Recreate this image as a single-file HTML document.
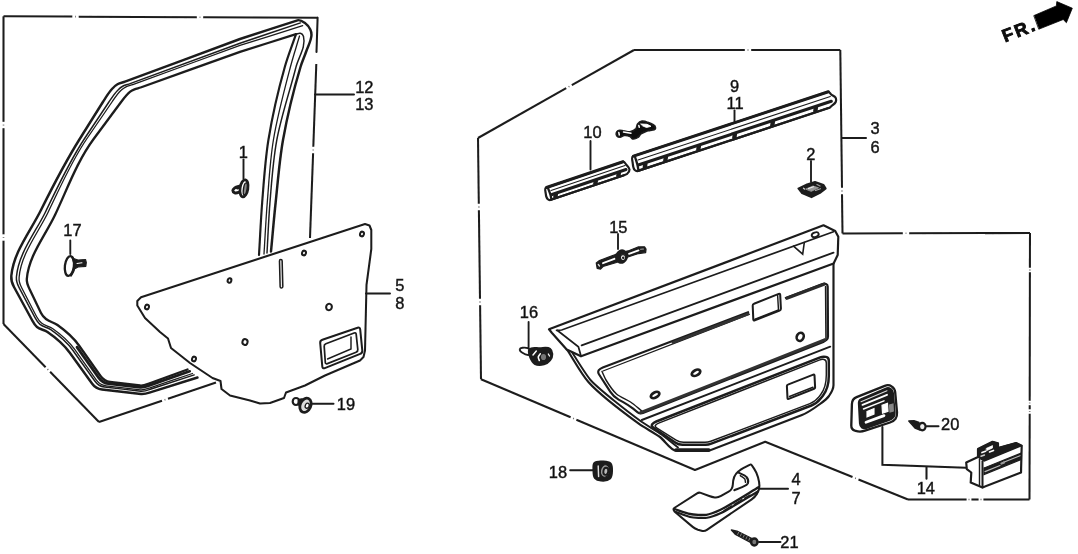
<!DOCTYPE html>
<html lang="en">
<head>
<meta charset="utf-8">
<title>Rear door lining parts diagram</title>
<style>
html,body{margin:0;padding:0;background:#fff;}
body{width:1078px;height:554px;overflow:hidden;}
svg{display:block;}
svg text{font-family:"Liberation Sans",sans-serif;fill:#111;}
</style>
</head>
<body>
<svg width="1078" height="554" viewBox="0 0 1078 554">
<rect x="0" y="0" width="1078" height="554" fill="#fff" stroke="none"/>
<defs><filter id="soft" x="-2%" y="-2%" width="104%" height="104%"><feGaussianBlur stdDeviation="0.45"/></filter></defs>
<g filter="url(#soft)">
<g fill="none" stroke="#1c1c1c" stroke-linecap="round">
<path d="M318 17.8 L203.2 17.3" fill="none" stroke-width="2.03" stroke-linecap="butt"/>
<path d="M200.4 17.2 L199.6 17.2" fill="none" stroke-width="1.62" stroke-linecap="butt" stroke="#666"/>
<path d="M196.8 17.2 L78.7 16.7" fill="none" stroke-width="2.03" stroke-linecap="butt"/>
<path d="M75.9 16.6 L75.1 16.6" fill="none" stroke-width="1.62" stroke-linecap="butt" stroke="#666"/>
<path d="M72.3 16.6 L3.5 16.3" fill="none" stroke-width="2.03" stroke-linecap="butt"/>
<path d="M3.5 16.3 L3.5 121.8" fill="none" stroke-width="2.03" stroke-linecap="butt"/>
<path d="M3.5 124.6 L3.5 125.5" fill="none" stroke-width="1.62" stroke-linecap="butt" stroke="#666"/>
<path d="M3.5 128.2 L3.5 234.3" fill="none" stroke-width="2.03" stroke-linecap="butt"/>
<path d="M3.5 237.1 L3.5 237.9" fill="none" stroke-width="1.62" stroke-linecap="butt" stroke="#666"/>
<path d="M3.5 240.7 L3.5 324" fill="none" stroke-width="2.03" stroke-linecap="butt"/>
<path d="M3.5 324 L45.6 367.2" fill="none" stroke-width="2.03" stroke-linecap="butt"/>
<path d="M47.5 369.2 L48.2 369.8" fill="none" stroke-width="1.62" stroke-linecap="butt" stroke="#666"/>
<path d="M50.1 371.8 L99 422" fill="none" stroke-width="2.03" stroke-linecap="butt"/>
<path d="M99 422 L162 400.7" fill="none" stroke-width="2.03" stroke-linecap="butt"/>
<path d="M164.6 399.9 L165.4 399.6" fill="none" stroke-width="1.62" stroke-linecap="butt" stroke="#666"/>
<path d="M168 398.7 L216 382.5" fill="none" stroke-width="2.03" stroke-linecap="butt"/>
<path d="M317.6 17.8 L316.5 52" fill="none" stroke-width="2.03" />
<path d="M316.3 64 L313.3 146.8" fill="none" stroke-width="2.03" stroke-linecap="butt"/>
<path d="M313.2 149.6 L313.2 150.4" fill="none" stroke-width="1.62" stroke-linecap="butt" stroke="#666"/>
<path d="M313.1 153.2 L310 238" fill="none" stroke-width="2.03" stroke-linecap="butt"/>
<path d="M315 94.5 L354 94.5" stroke-width="2.03" />
<path d="M197.5 377.5 C182 382.4 166.5 387.3 151 392.2 C147.8 393.2 144.4 394.4 141 394 C128 392.5 115 391 102 389.5 C98.1 389.1 94.3 386.7 92 383.5 C84.7 373.3 77.3 363.2 70 353 C64 344.7 56 337.8 47.5 332 C44.3 329.8 40 329.5 37 327 C34.8 325.2 33.4 322.5 32 320 C26 309 20 298 14 287 C12.2 283.7 11 279.8 11.3 276 C13.5 252 30.3 231.6 41 210 C53.1 185.7 65.6 161.5 80 138.5 C87.6 126.3 95.3 114.2 102.9 102 C105.7 97.5 108.4 92.9 112 89 C113.6 87.2 115.4 85.5 117.5 84.3 C119.8 83 122.5 82.6 125 81.7 C163.3 67.5 201.7 53.2 240 39 C259.2 32.8 278.3 26.5 297.5 20.3 C300 19.5 302.8 21.4 305 22.9 C307.3 24.5 309.1 27 310.3 29.6 C311.1 31.3 311.6 33.2 311.5 35 C311.2 40.9 307.9 46.4 306 52 C304.3 57 302 61.9 300.5 67 C293.3 91 287.4 115.4 283 140 C279.4 160.5 277.9 181.3 275.7 202 C273.9 218.5 272.6 235 271 251.5" fill="none" stroke-width="2.46" />
<path d="M187.5 369.5 C174.7 374.2 161.8 378.8 149 383.5 C146.1 384.6 143.1 385.9 140 385.5 C130 384.3 120 383.2 110 382 C106.3 381.6 102.7 379.1 100.5 376 C93.3 365.8 86.2 355.7 79 345.5 C73.3 337.4 65.6 330.8 57.5 325 C54 322.5 49.4 321.7 46 319 C44 317.4 42.1 315.3 41 313 C37.2 305 33.3 297 29.5 289 C28 285.9 26.5 282.4 26.8 279 C28.6 255.8 45 236.1 55 215 C67.3 189.1 76.9 161.5 94 138.5 C103 126.3 112.1 114.2 121.1 102 C123.8 98.3 126.6 94.5 130.2 91.6 C131.5 90.6 133 89.9 134.5 89.3 C136.5 88.5 138.6 88.2 140.6 87.5 C173.7 75.6 206.9 63.7 240 51.8 C258.7 45.9 277.3 40.1 296 34.2" fill="none" stroke-width="2.32" />
<path d="M194.2 374.9 C179.6 379.7 165 384.5 150.3 389.3 C147.2 390.4 143.9 391.6 140.7 391.2 C128.7 389.8 116.6 388.4 104.6 387 C100.8 386.6 97 384.1 94.8 381 C87.5 370.9 80.2 360.7 73 350.5 C67.1 342.3 59.1 335.5 50.8 329.7 C47.5 327.4 43.1 326.9 40 324.4 C37.8 322.6 36.3 320.1 35 317.7 C29.7 307.7 24.4 297.7 19.1 287.7 C17.4 284.4 16.1 280.6 16.4 277 C18.5 253.2 35.1 233.1 45.6 211.7 C57.8 186.8 69.3 161.5 84.6 138.5 C92.7 126.3 100.8 114.2 108.9 102 C111.7 97.8 114.4 93.5 118 89.9 C119.5 88.3 121.2 87 123.1 86 C125.3 84.8 127.8 84.5 130.1 83.6 C166.8 70.2 203.4 56.7 240 43.2 C260.2 36.4 280.3 29.7 300.5 22.9" fill="none" stroke-width="1.45" />
<path d="M192.5 373.5 C178.3 378.3 164.2 383.1 150 387.9 C146.9 388.9 143.7 390.1 140.5 389.8 C129 388.4 117.5 387.1 106 385.8 C102.2 385.3 98.5 382.9 96.2 379.8 C89 369.6 81.8 359.4 74.5 349.2 C68.6 341 60.8 334.3 52.5 328.5 C49.1 326.2 44.7 325.6 41.5 323 C39.4 321.3 37.8 318.9 36.5 316.5 C31.6 307 26.7 297.5 21.8 288 C20.1 284.8 18.7 281.1 19.1 277.5 C21 253.9 37.6 233.8 48 212.5 C60.2 187.4 71.2 161.5 87 138.5 C95.3 126.3 103.7 114.2 112 102 C114.8 97.9 117.5 93.7 121.1 90.3 C122.5 88.9 124.2 87.7 126 86.8 C128.1 85.7 130.6 85.4 132.8 84.6 C168.5 71.5 204.3 58.5 240 45.4 C260.9 38.8 281.8 32.3 302.7 25.7" fill="none" stroke-width="1.30" />
<path d="M296 34.2 C292.3 45.1 287.9 55.9 284.8 67 C278 91 272.4 115.4 268.4 140 C265.1 160.5 263.9 181.3 262.2 202 C260.8 219.6 260.1 237.3 259 255" fill="none" stroke-width="2.17" />
<path d="M299.5 36 C296.5 46.3 293.1 56.6 290.4 67 C284 91.2 277.5 115.3 273.4 140 C270 160.5 269 181.3 267.3 202 C265.9 219.3 265.1 236.7 264 254" fill="none" stroke-width="1.30" />
<path d="M296 34.2 C297.5 33.9 299 32.8 300.5 33.3 C301.9 33.7 303.1 35.1 303.5 36.5 C306.2 46.6 298.6 56.9 296 67 C289.8 91.4 281.4 115.3 276.8 140 C273 160.4 271.7 181.3 270 202 C268.6 219 268 236 267 253" fill="none" stroke-width="1.45" />
<path d="M189.7 371.3 C176.3 376 162.9 380.7 149.4 385.4 C146.5 386.5 143.3 387.7 140.2 387.4 C129.6 386.1 118.9 384.9 108.2 383.6 C104.5 383.2 100.8 380.7 98.6 377.6 C91.4 367.5 84.2 357.3 77 347.1" fill="none" stroke-width="2.75" />
<path d="M141 297.3 L365 224 L369.5 225.5 L371.3 230 L371.3 249 L366.5 285 L365 350.5 L363.5 357 L360 360.5 L325 375.5 L305 385.5 L286 392.5 L284 398 L270 403 L260 403.5 L250 400.5 L230 395.5 L221.5 389 L220.5 381 L212.5 378 L190 363 L171 348 L168 338.5 L160 332 L145 318 L137.3 305.5 L137.3 301Z" fill="#fff" stroke-width="2.03" stroke-linejoin="round"/>
<ellipse cx="362" cy="234" rx="1.95" ry="2.35" transform="rotate(15 362 234)" fill="none" stroke-width="2.03"/>
<ellipse cx="304" cy="253" rx="1.95" ry="2.35" transform="rotate(15 304 253)" fill="none" stroke-width="2.03"/>
<ellipse cx="229.5" cy="280.5" rx="1.8499999999999999" ry="2.25" transform="rotate(15 229.5 280.5)" fill="none" stroke-width="2.03"/>
<ellipse cx="147" cy="307" rx="1.95" ry="2.35" transform="rotate(15 147 307)" fill="none" stroke-width="2.03"/>
<ellipse cx="329" cy="307" rx="2.8499999999999996" ry="3.25" transform="rotate(15 329 307)" fill="none" stroke-width="2.03"/>
<ellipse cx="245" cy="342" rx="2.55" ry="2.95" transform="rotate(15 245 342)" fill="none" stroke-width="2.03"/>
<ellipse cx="194" cy="359" rx="1.95" ry="2.35" transform="rotate(15 194 359)" fill="none" stroke-width="2.03"/>
<rect x="279.8" y="259.5" width="2.7" height="28.5" rx="1.35" stroke-width="1.5" fill="#eee" transform="rotate(-1.5 281 274)"/>
<path d="M320.2 343 Q320 340.5 322.4 339.7 L357.6 327.8 Q360 327 360.2 329.5 L362.3 350.5 Q362.5 353 360.2 353.9 L324.8 368.1 Q322.5 369 322.3 366.5 Z" fill="none" stroke-width="2.03" />
<path d="M324.2 346.5 Q324 344.5 325.9 343.8 L354.1 333 Q356 332.3 356.2 334.3 L357.8 349.5 Q358 351.5 356.1 352.2 L327.4 363.6 Q325.5 364.3 325.3 362.3 Z" fill="none" stroke-width="1.74" />
<path d="M351 337 L351 349 L327.5 359" fill="none" stroke-width="1.45" />
<path d="M366 293.5 L390 293.5" stroke-width="2.03" />
<path d="M70.3 240.5 L70.3 254" stroke-width="1.89" />
<path d="M243.5 159.5 L243.5 179" stroke-width="1.89" />
<path d="M311 403.7 L333.5 403.7" stroke-width="2.03" />
<path d="M73.5 258.5 L78 260 L85.5 259.5 L86.3 262.5 L85.8 266.3 L78 267 L73.5 269.5Z" fill="#1c1c1c" stroke-width="1.16" stroke-linejoin="round"/>
<path d="M77 263.6 L82 262.8" fill="none" stroke-width="1.01" stroke="#fff"/>
<ellipse cx="69.4" cy="266" rx="4.5" ry="10" transform="rotate(7 69.4 266)" fill="#fff" stroke-width="2.32"/>
<path d="M72.3 257 C72.9 258.7 73.7 260.3 74 262 C74.4 264.6 74.5 267.4 73.8 270 C73.3 272 71.9 273.7 71 275.5" fill="none" stroke-width="2.17" />
<path d="M240.5 186 C238.6 186.6 236.4 186.6 234.8 187.8 C233.9 188.5 232.8 189.4 232.8 190.5 C232.8 191.5 233.8 192.4 234.8 192.8 C236.6 193.5 238.6 192.3 240.5 192" fill="#fff" stroke-width="2.90" />
<path d="M237.5 187.8 L240.5 186.5" stroke-width="3.19" />
<ellipse cx="244" cy="188.3" rx="3.9" ry="8.6" transform="rotate(9 244 188.3)" fill="#fff" stroke-width="2.75"/>
<ellipse cx="245.3" cy="188.8" rx="1.8" ry="6" transform="rotate(9 245.3 188.8)" fill="#888" stroke-width="1.45"/>
<ellipse cx="296" cy="401.5" rx="3.3" ry="3.5" transform="rotate(0 296 401.5)" fill="#fff" stroke-width="2.17"/>
<path d="M298.5 399.3 L302.5 398.6 L300.3 407.5 L298 404.3Z" fill="#1c1c1c" stroke-width="0.87" />
<ellipse cx="305.5" cy="405.3" rx="5.3" ry="7.4" transform="rotate(24 305.5 405.3)" fill="#ddd" stroke-width="2.75"/>
<ellipse cx="307.2" cy="405.7" rx="1.9" ry="2.6" transform="rotate(24 307.2 405.7)" fill="#fff" stroke-width="1.30"/>
<path d="M634 50 L744.8 50" fill="none" stroke-width="2.03" stroke-linecap="butt"/>
<path d="M747.5 50 L748.5 50" fill="none" stroke-width="1.62" stroke-linecap="butt" stroke="#666"/>
<path d="M751.2 50 L840.3 50" fill="none" stroke-width="2.03" stroke-linecap="butt"/>
<path d="M840.3 50 L842 187.8" fill="none" stroke-width="2.03" stroke-linecap="butt"/>
<path d="M842 190.6 L842 191.4" fill="none" stroke-width="1.62" stroke-linecap="butt" stroke="#666"/>
<path d="M842 194.2 L842.5 233.5" fill="none" stroke-width="2.03" stroke-linecap="butt"/>
<path d="M842.5 233.5 L902.8 233.3" fill="none" stroke-width="2.03" stroke-linecap="butt"/>
<path d="M905.6 233.3 L906.4 233.3" fill="none" stroke-width="1.62" stroke-linecap="butt" stroke="#666"/>
<path d="M909.2 233.3 L1030 233" fill="none" stroke-width="2.03" stroke-linecap="butt"/>
<path d="M1030 233 L1029.9 267.8" fill="none" stroke-width="2.03" stroke-linecap="butt"/>
<path d="M1029.9 269.6 L1029.9 270.4" fill="none" stroke-width="1.62" stroke-linecap="butt" stroke="#666"/>
<path d="M1029.9 272.2 L1029.7 400.8" fill="none" stroke-width="2.03" stroke-linecap="butt"/>
<path d="M1029.7 402.6 L1029.7 403.4" fill="none" stroke-width="1.62" stroke-linecap="butt" stroke="#666"/>
<path d="M1029.7 405.2 L1029.7 409.3" fill="none" stroke-width="2.03" stroke-linecap="butt"/>
<path d="M1029.7 411.1 L1029.7 411.9" fill="none" stroke-width="1.62" stroke-linecap="butt" stroke="#666"/>
<path d="M1029.7 413.7 L1029.5 499.5" fill="none" stroke-width="2.03" stroke-linecap="butt"/>
<path d="M1029.5 499.5 L983.4 499.5" fill="none" stroke-width="2.03" stroke-linecap="butt"/>
<path d="M981.5 499.5 L980.5 499.5" fill="none" stroke-width="1.62" stroke-linecap="butt" stroke="#666"/>
<path d="M978.6 499.5 L971.4 499.5" fill="none" stroke-width="2.03" stroke-linecap="butt"/>
<path d="M969.5 499.5 L968.5 499.5" fill="none" stroke-width="1.62" stroke-linecap="butt" stroke="#666"/>
<path d="M966.6 499.5 L908 499.5" fill="none" stroke-width="2.03" stroke-linecap="butt"/>
<path d="M908 499.5 L858.5 479.5" fill="none" stroke-width="2.03" stroke-linecap="butt"/>
<path d="M855.9 478.4 L855.1 478.1" fill="none" stroke-width="1.62" stroke-linecap="butt" stroke="#666"/>
<path d="M852.5 477 L765.2 441.7" fill="none" stroke-width="2.03" stroke-linecap="butt"/>
<path d="M765.2 441.7 L695 470" fill="none" stroke-width="2.03" />
<path d="M695 470 L576.4 419.8" fill="none" stroke-width="2.03" stroke-linecap="butt"/>
<path d="M573.9 418.7 L573.1 418.3" fill="none" stroke-width="1.62" stroke-linecap="butt" stroke="#666"/>
<path d="M570.6 417.3 L481 379.3" fill="none" stroke-width="2.03" stroke-linecap="butt"/>
<path d="M481 379.3 L480.1 305.2" fill="none" stroke-width="2.03" stroke-linecap="butt"/>
<path d="M480 302.4 L480 301.6" fill="none" stroke-width="1.62" stroke-linecap="butt" stroke="#666"/>
<path d="M480 298.8 L478.9 210.2" fill="none" stroke-width="2.03" stroke-linecap="butt"/>
<path d="M478.9 207.4 L478.9 206.6" fill="none" stroke-width="1.62" stroke-linecap="butt" stroke="#666"/>
<path d="M478.8 203.8 L478 138" fill="none" stroke-width="2.03" stroke-linecap="butt"/>
<path d="M478 138 L566.2 88.2" fill="none" stroke-width="2.03" stroke-linecap="butt"/>
<path d="M568.6 86.9 L569.4 86.4" fill="none" stroke-width="1.62" stroke-linecap="butt" stroke="#666"/>
<path d="M571.8 85.1 L634 50" fill="none" stroke-width="2.03" stroke-linecap="butt"/>
<path d="M842 138 L866 138" stroke-width="2.03" />
<path d="M546 187.7 C569.1 179.9 599.9 169.5 623 161.7 C624.4 161.2 625.6 163.9 626.5 165 C627.5 166.2 629.4 167.9 629.5 169.5 C629.6 171 628.2 173 627 174 C626.3 174.6 624.9 174.9 624 175.2 C602.1 182.6 572.9 192.4 551 199.8 C550 200.2 548.3 199.7 547.5 198.9 C546.2 197.7 545.9 195.1 545.7 193.3 C545.5 191.6 544.4 188.2 546 187.7Z" fill="#fff" stroke-width="2.17" />
<path d="M546.5 187.5 L623 161.7" fill="none" stroke-width="3.04" />
<path d="M551 190.6 L625 165.6" fill="none" stroke-width="1.09" />
<path d="M552 194.5 L626 169.5" fill="none" stroke-width="3.04" />
<path d="M551 199.8 L624 175.2" fill="none" stroke-width="2.17" />
<path d="M556 193.4 L555.2 198.1" fill="none" stroke-width="4.35" stroke-linecap="butt"/>
<path d="M596 179.9 L595.2 184.6" fill="none" stroke-width="4.35" stroke-linecap="butt"/>
<path d="M619 172.2 L618.2 176.8" fill="none" stroke-width="4.35" stroke-linecap="butt"/>
<path d="M548.2 188.6 C548.8 190.2 549.7 192.3 550.2 193.9 C550.7 195.5 551.1 197.6 551.5 199.2" fill="none" stroke-width="2.32" />
<path d="M633 156.3 C691.6 137 769.7 111.2 828.3 91.8 C829.3 91.5 830.1 93.6 831 94.3 C832.3 95.4 834.7 96.1 835.5 97.6 C836.1 98.8 836.2 100.8 835.7 102 C835.1 103.6 832.8 104.9 831.5 106 C830.9 106.6 830.1 107.5 829.3 107.8 C771.9 126.7 695.4 152 638 170.9 C636.9 171.3 635.3 170.5 634.5 169.7 C633.1 168.1 632.9 165 632.7 162.9 C632.5 160.9 631.1 156.9 633 156.3Z" fill="#fff" stroke-width="2.17" />
<path d="M633.5 156.1 L828.3 91.8" fill="none" stroke-width="3.04" />
<path d="M638 160 L830.3 96.5" fill="none" stroke-width="1.09" />
<path d="M639 164.8 L831.3 101.2" fill="none" stroke-width="3.04" />
<path d="M638 170.9 L829.3 107.8" fill="none" stroke-width="2.17" />
<path d="M645.5 162.9 L644.7 168.4" fill="none" stroke-width="4.35" stroke-linecap="butt"/>
<path d="M666 156.2 L665.2 161.6" fill="none" stroke-width="4.35" stroke-linecap="butt"/>
<path d="M699 145.3 L698.2 150.7" fill="none" stroke-width="4.35" stroke-linecap="butt"/>
<path d="M735 133.4 L734.2 138.9" fill="none" stroke-width="4.35" stroke-linecap="butt"/>
<path d="M773 120.8 L772.2 126.3" fill="none" stroke-width="4.35" stroke-linecap="butt"/>
<path d="M816 106.6 L815.2 112.1" fill="none" stroke-width="4.35" stroke-linecap="butt"/>
<path d="M635.2 157.5 C635.8 159.4 636.7 161.9 637.2 163.9 C637.7 165.8 638.1 168.4 638.5 170.3" fill="none" stroke-width="2.32" />
<path d="M616.2 133 C616.4 132.2 617.3 131 618 130.6 C619.2 130 621.7 130.5 623 130.6 C624.9 130.7 628.1 131.9 630 131.6 C631.8 131.3 634.8 129.9 636 128.5 C636.8 127.5 636.7 125 637.5 124 C638.4 122.9 640.6 121.3 642 121 C643.6 120.7 646.5 121.7 648 122.3 C650 123 653.8 124.2 655 126 C655.4 126.7 655.8 128.3 655.3 129 C654.5 130.2 651.4 130.1 650 130.5 C648.9 130.8 647 131.1 646 131.5 C644.6 132 642.2 133.1 641 134 C640 134.8 639 136.8 638 137.5 C636.7 138.3 634 139.4 632.5 139 C631.6 138.8 630.8 136.9 630 136.5 C628.6 135.8 625.6 135.3 624 135.5 C622.8 135.7 621.2 137.3 620 137.3 C619.1 137.3 617.4 136.7 616.8 136 C616.3 135.4 616 133.8 616.2 133Z" fill="#111" stroke-width="1.45" />
<path d="M623.5 132 L631 133.2" fill="none" stroke-width="1.45" stroke="#fff"/>
<path d="M641 124 L647 124.3 L651 126.3 L646.5 127.5 L643 126Z" fill="#fff" stroke-width="0.87" stroke="#fff"/>
<path d="M618.8 132.5 L619.3 135" fill="none" stroke-width="1.45" stroke="#fff"/>
<path d="M638.8 125.5 L639.3 127.2" fill="none" stroke-width="1.45" stroke="#fff"/>
<path d="M590.5 141 L590.5 169.5" stroke-width="1.89" />
<path d="M734.5 110.5 L734.5 121.5" stroke-width="1.89" />
<path d="M811 161 L811 182" stroke-width="1.89" />
<path d="M618 234 L618 249" stroke-width="1.89" />
<path d="M528.6 322 L528.6 348.5" stroke-width="1.89" />
<path d="M798.3 188.5 L807 184.3 L815 181.8 L823.5 184.8 L825.8 188.5 L820 193 L811.5 197.3 L802 193.2Z" fill="#1c1c1c" stroke-width="1.74" stroke-linejoin="round"/>
<path d="M806 189 L813 186 L818.5 187.8 L811.5 191.2Z" fill="#999" stroke-width="0.87" stroke="#999"/>
<path d="M808.5 188.5 L813.5 186.8" fill="none" stroke-width="1.16" stroke="#eee"/>
<path d="M815.5 190.5 L820.5 188.8" fill="none" stroke-width="1.16" stroke="#aaa"/>
<path d="M803.5 188.2 L804.5 189" fill="none" stroke-width="1.30" stroke="#ccc"/>
<path d="M817 184.5 L820 186" fill="none" stroke-width="1.30" stroke="#999"/>
<path d="M596.3 263 L599.5 260.5 L615.5 254.5 L628 251 L638 247 L644.5 246.8 L646 249 L645.6 252.6 L638.5 253.5 L628 257 L616.5 262.5 L603 266.5 L600.5 269 L597.2 268.3Z" fill="#1c1c1c" stroke-width="1.30" stroke-linejoin="round"/>
<path d="M603 263.2 L615 258.7" fill="none" stroke-width="1.89" stroke="#fff"/>
<path d="M629 253.8 L638.5 250.4" fill="none" stroke-width="1.89" stroke="#fff"/>
<path d="M598.3 264.5 L599.5 266" fill="none" stroke-width="1.30" stroke="#ddd"/>
<path d="M640.5 249.3 L643.5 249" fill="none" stroke-width="1.01" stroke="#aaa"/>
<ellipse cx="621.6" cy="256.6" rx="5.2" ry="6.2" transform="rotate(20 621.6 256.6)" fill="#1c1c1c" stroke-width="2.32"/>
<ellipse cx="623" cy="257.6" rx="2.6" ry="3.0" transform="rotate(0 623 257.6)" fill="#fff" stroke-width="1.30"/>
<ellipse cx="623.2" cy="257.8" rx="0.7" ry="0.8" transform="rotate(0 623.2 257.8)" fill="#1c1c1c" stroke-width="1.01"/>
<path d="M519.8 349.3 C520 348.3 521.5 347.9 522.5 347.8 C525.1 347.5 528.4 347.7 530 349.8 C530.9 351 531.2 353.4 530 354.3 C527.9 356 524.3 354 522 352.5 C520.9 351.8 519.5 350.6 519.8 349.3Z" fill="#fff" stroke-width="1.89" />
<path d="M529.5 349.5 C531.7 346.7 536.5 348.4 540 348.3 C543.3 348.2 547.2 346.9 550 348.8 C551.6 349.9 552.2 352.1 552.3 354 C552.4 356.3 551.4 358.7 550 360.5 C548.5 362.4 546.3 363.7 544 364.3 C541.1 365.1 537.7 365.4 535 364 C532.8 362.8 531.4 360.3 530.5 358 C529.4 355.4 527.7 351.7 529.5 349.5Z" fill="#1c1c1c" stroke-width="2.03" />
<ellipse cx="543.5" cy="357" rx="3.3" ry="3.8" transform="rotate(0 543.5 357)" fill="#777" stroke-width="1.45"/>
<path d="M539.3 360.5 C539 359.3 538.1 358.2 538.3 357 C538.5 355.8 539.6 354.9 540.2 353.8" fill="none" stroke-width="1.59" stroke="#fff"/>
<path d="M533 355 L536.3 351" stroke-width="1.45" stroke="#fff"/>
<path d="M548.3 354 L549.5 356" stroke-width="1.30" stroke="#fff"/>
<path d="M594.5 463 C596.5 460.9 600.1 461.4 603 461.5 C605.6 461.6 608.7 461.6 610.5 463.5 C612.2 465.4 612.1 468.5 612 471 C611.9 473.6 611.9 476.7 610 478.5 C607.8 480.6 604.1 480.8 601 480.5 C598.8 480.3 596.4 479.7 595 478 C593.3 475.9 593.6 472.7 593.5 470 C593.4 467.6 592.9 464.7 594.5 463Z" fill="#1c1c1c" stroke-width="2.03" />
<ellipse cx="605" cy="471" rx="4.6" ry="6.3" transform="rotate(10 605 471)" fill="#999" stroke-width="1.16"/>
<ellipse cx="605.8" cy="471.3" rx="2.4" ry="3.6" transform="rotate(10 605.8 471.3)" fill="#bbb" stroke-width="1.89"/>
<path d="M598.2 466 L598.6 476.5" stroke-width="1.45" stroke="#ddd"/>
<path d="M570.2 470.2 L594 470.2" stroke-width="2.03" />
<path d="M566.7 349 C572.5 357.8 581.4 374.2 588.4 382 C599.9 394.9 624.4 413.2 638.4 423.4 C643.9 427.4 654.5 433 660 437 C664.7 440.4 670.9 450.9 676.7 450.9 C685.2 450.9 699.9 450.9 708.4 450.9 C733.4 441.3 777 424.6 802 415 C807.3 413 815.5 407.3 820 404 C822.6 402.1 827.1 398.6 829 396 C830.8 393.4 833.5 388.2 833.5 385 C833.5 352.5 833.5 295.5 833.5 263" fill="#fff" stroke-width="2.17" />
<path d="M569 347.5 C573.3 354 585.3 374.2 590.5 380 C599.2 389.6 630 413.4 640.5 421 C644.5 423.9 657.4 431.6 661.5 434.5 C664.9 436.9 674.7 444.9 678 447.5" fill="none" stroke-width="1.89" />
<path d="M549 329.3 L823.5 225.3 L835.2 230.9 L838.3 236.7 L837.7 255 L833.6 263.4 L581 356.3 L566.7 349.5 L552 333Z" fill="#fff" stroke-width="2.17" stroke-linejoin="round"/>
<path d="M556.5 330.3 L561.7 330 L833.5 231.7" fill="none" stroke-width="1.74" />
<path d="M557.5 330.5 L578.4 346.8 L581 356" fill="none" stroke-width="1.74" />
<path d="M581.7 345.3 L833.5 252.6" fill="none" stroke-width="1.89" />
<path d="M793.5 246.2 L802.7 254.2 L804.3 242.5" fill="none" stroke-width="1.59" />
<ellipse cx="815.2" cy="234.7" rx="3.6" ry="2.3" transform="rotate(-20 815.2 234.7)" fill="none" stroke-width="1.89"/>
<path d="M598.8 370.2 Q600 368.5 602.8 367.4 L822.5 284 Q824.4 283.3 826 283.9 L826 283.9 Q827.7 284.5 827.7 286.5 L828 336.4 Q828 338.4 826.6 339.8 L826.6 339.8 Q825.2 341.2 823.3 341.9 L642.9 413.1 Q640.1 414.2 637.7 412.3 L633.1 408.7 Q628.4 405 623.2 402.1 L618.6 399.6 Q613.4 396.7 610.2 391.7 L599.1 374.5 Q597.5 372 598.8 370.2 Z" fill="none" stroke-width="2.17" />
<path d="M603 371 L785 300.5" fill="none" stroke-width="1.30" />
<path d="M602 371.5 C603.1 373.8 604.7 377.9 606 380 C608.4 384 613 390.9 616.5 394 C619.7 396.8 626.9 399.6 630.5 402 C633.9 404.3 639.3 409 642.5 411.5" fill="none" stroke-width="1.45" />
<path d="M786.8 298.3 L824 284.2" fill="none" stroke-width="3.19" stroke="#2a2a2a"/>
<path d="M825.6 286.5 L826 338" fill="none" stroke-width="1.59" />
<path d="M640.5 412.7 L825 339.6" fill="none" stroke-width="2.90" stroke="#333"/>
<path d="M673 342.5 L748 314" fill="none" stroke-width="2.75" stroke="#333"/>
<path d="M641.8 420 L830.2 346.7" fill="none" stroke-width="1.89" />
<path d="M749.5 313.2 L785.5 299.6" fill="none" stroke-width="6.52" stroke="#fff" stroke-linecap="butt"/>
<path d="M752.7 305.7 Q752.6 304.2 754 303.7 L778.7 293.9 Q780.1 293.4 780.2 294.9 L780.9 308.5 Q781 310 779.6 310.6 L754.8 320.3 Q753.4 320.9 753.3 319.4 Z" fill="#fff" stroke-width="2.03" />
<path d="M755 319.2 L778.5 310 L777.6 295" fill="none" stroke-width="1.45" />
<ellipse cx="800.2" cy="336.8" rx="3.4" ry="4.2" transform="rotate(25 800.2 336.8)" fill="none" stroke-width="2.61"/>
<ellipse cx="696" cy="372.8" rx="4.6" ry="2.6" transform="rotate(-28 696 372.8)" fill="none" stroke-width="2.75"/>
<ellipse cx="655.1" cy="395" rx="4.6" ry="2.6" transform="rotate(-28 655.1 395)" fill="none" stroke-width="2.75"/>
<path d="M652.2 424.3 Q653.5 422.6 656.3 421.5 L820.2 357.4 Q823 356.3 825.9 356.9 L825.9 356.9 Q828.8 357.5 828.8 360.5 L828.8 376 Q828.8 388 822.9 395.7 L820.6 398.6 Q817 403.4 811.4 405.5 L711.3 443.7 Q708.5 444.8 705.5 444.8 L682.5 444.8 Q678.5 444.8 675.2 442.5 L653.5 427.7 Q651 426 652.2 424.3 Z" fill="none" stroke-width="2.46" />
<path d="M655.5 425.2 Q656.5 424 659.3 422.9 L819.2 360.1 Q822 359 824.1 359.5 L824.1 359.5 Q826.3 360 826.3 363 L826.3 375 Q826.3 387 820.9 394.2 L819.1 396.7 Q815.5 401.5 809.9 403.6 L710.8 441.2 Q708 442.3 705 442.3 L683.5 442.3 Q679.5 442.3 676.1 440.2 L657 428.1 Q654.5 426.5 655.5 425.2 Z" fill="none" stroke-width="1.45" />
<path d="M676 450 L708.8 450" fill="none" stroke-width="3.62" />
<path d="M786.9 386.2 Q786.8 385 787.9 384.6 L813.3 374.6 Q814.4 374.2 814.5 375.4 L815.1 387.2 Q815.2 388.4 814.1 388.8 L788.7 398.9 Q787.6 399.3 787.5 398.1 Z" fill="none" stroke-width="2.03" />
<path d="M789.5 396.5 L813 387.3" fill="none" stroke-width="1.45" />
<path d="M851.9 404 Q852 399 856.6 397.1 L884.8 385.8 Q888.5 384.3 891.7 386.4 L891.7 386.4 Q894.9 388.4 895.2 392.4 L897 412.4 Q897.3 416.4 895.5 418.9 L895.5 418.9 Q893.8 421.3 890 422.5 L865 430.7 Q860.2 432.3 855.7 430.9 L855 430.7 Q851.2 429.5 851.3 425.5 Z" fill="#fff" stroke-width="2.32" />
<path d="M858.7 403.3 Q858.5 400.3 861.2 399.1 L885.6 388.5 Q888.3 387.3 890.6 388.8 L890.6 388.8 Q893 390.3 893.2 393.3 L894.8 412.5 Q895 415.5 893.4 417.4 L893.4 417.4 Q891.8 419.3 889 420.3 L866.8 428 Q864 429 862 427.8 L862 427.8 Q860 426.5 859.8 423.5 Z" fill="#1c1c1c" stroke-width="1.74" />
<path d="M861 401.8 L887 390.8" fill="none" stroke-width="1.01" stroke="#ddd"/>
<path d="M862.5 404.8 L887 394.8" fill="none" stroke-width="1.89" stroke="#fff"/>
<path d="M863.5 409 L884 400.8" fill="none" stroke-width="1.45" stroke="#fff"/>
<path d="M867 411.5 L874 408.7 L874 414 L867 416.8Z" fill="#fff" stroke-width="1.16" stroke="#fff"/>
<path d="M882 405.2 L887.5 403.2 L888 411.3 L882.5 413.3Z" fill="#fff" stroke-width="1.16" stroke="#fff"/>
<path d="M866 422.3 L884 415.6" fill="none" stroke-width="2.75" stroke="#fff"/>
<path d="M889.5 405 L893 404 L893.3 411 L890 412Z" fill="#888" stroke-width="1.16" stroke="#888"/>
<path d="M882.4 427 L882.4 464.8 L966 467.8" fill="none" stroke-width="2.03" />
<path d="M926.5 467 L926.5 478.8" stroke-width="2.03" />
<path d="M908.8 421 L914 420.8 L919 422.5 L920 430 L915 428Z" fill="#1c1c1c" stroke-width="1.45" stroke-linejoin="round"/>
<ellipse cx="922.3" cy="426.6" rx="3.3" ry="3.7" transform="rotate(0 922.3 426.6)" fill="#eee" stroke-width="2.17"/>
<path d="M926.5 426.2 L938.5 426.2" stroke-width="2.03" />
<path d="M966.2 462.5 L978 457 L978 449 L992.5 441.8 L998 443.4 L998 448 L1016 443 L1021.7 445.7 L1021 472.6 L982.5 487.5 L970.7 482.6 L971.3 472.5 L966.8 469.2Z" fill="#fff" stroke-width="2.17" stroke-linejoin="round"/>
<path d="M978 449 L992.5 441.8 L998 443.4 L998 448 L1016 443 L1021.7 445.7 L984 461 L978.5 457.5Z" fill="#1c1c1c" stroke-width="1.45" stroke-linejoin="round"/>
<path d="M986.5 448.3 L992.5 445.6 L992.5 448 L986.5 450.7Z" fill="#fff" stroke-width="0.72" stroke="#fff"/>
<path d="M982 452.6 L985.5 451.2" fill="none" stroke-width="1.59" stroke="#fff"/>
<path d="M989.5 452 L993.5 450.4" fill="none" stroke-width="1.59" stroke="#fff"/>
<path d="M981 456.3 L984.5 455" fill="none" stroke-width="1.45" stroke="#ccc"/>
<path d="M982.5 461.4 L982.5 487.5" fill="none" stroke-width="2.03" />
<path d="M979.5 459.5 L979.5 485.5" fill="none" stroke-width="1.45" />
<path d="M984 468 L1021 453.2 L1021 459.5 L984 474.6Z" fill="#1c1c1c" stroke-width="1.16" />
<path d="M985 471.6 L1000 465.5" fill="none" stroke-width="1.16" stroke="#bbb"/>
<path d="M1003 462.5 L1020 455.7" fill="none" stroke-width="1.16" stroke="#bbb"/>
<path d="M1001.5 463.5 L1004 462.5" fill="none" stroke-width="2.32" stroke="#999"/>
<path d="M750.1 464.7 Q751 464.2 751.6 465 L753.9 468.4 Q756.8 472.6 758 477.2 L758 477.2 Q759.3 481.8 759.4 485.6 L759.4 485.6 Q759.5 489.5 757.4 492.9 L757.1 493.6 Q755 497 751.7 499.3 L706.9 529.9 Q704.4 531.6 701.5 530.7 L697.9 529.7 Q695 528.8 692.7 526.9 L675.9 512.8 Q674.4 511.5 673.8 510.2 L673.7 509.9 Q673.3 509 674 508.3 L674.3 508.2 Q675 507.5 675.8 507 L697.1 493.3 Q698.8 492.2 700.7 492.9 L709.2 496 Q712 497 714.8 497.4 L714.8 497.4 Q717.6 497.9 721.1 495.9 L728.2 491.9 Q732.6 489.4 732.8 484.7 L732.8 484.7 Q733 480 734.2 477 L734.2 477 Q735.5 474 738.2 471.6 L738.7 471.2 Q741 469.3 743.7 467.9 Z" fill="#fff" stroke-width="2.03" />
<path d="M738.5 472.7 C740.9 474 744.9 474.8 746.5 477 C747.7 478.5 748.6 481.5 747.9 483.3 C747 485.4 743.5 486.3 741.5 487.3 C739.4 488.4 736.5 489.3 734.3 490.2" fill="none" stroke-width="2.03" />
<path d="M740.3 475.6 C741.6 476.6 743.9 477.6 744.8 479 C745.3 479.9 745.3 481.3 745.5 482.3" fill="none" stroke-width="1.45" />
<path d="M674.5 509 C677.6 510 686.8 513.4 690 514 C693.2 514.6 703.1 515.3 706.3 514.8 C709.2 514.4 717.4 511.2 720 510 C728.2 506.2 751.1 491.6 758.9 487" fill="none" stroke-width="2.32" />
<path d="M676 512 C678.8 513 687.1 516.4 690 517 C693.3 517.7 703.6 518.3 707 517.8 C709.9 517.4 718.3 514.2 721 513 C728.8 509.4 750.6 495.8 758 491.5" fill="none" stroke-width="2.17" />
<path d="M724 510.5 L750 495" fill="none" stroke-width="1.45" stroke-dasharray="9 3"/>
<path d="M760.2 488.7 L788 488.7" stroke-width="2.03" />
<path d="M731.4 530 L737 531.2 L752 538.5 L750.5 542.5 L735.5 534.5Z" fill="#1c1c1c" stroke-width="1.30" stroke-linejoin="round"/>
<path d="M738.6 532.4 L737.6 534.6" stroke-width="0.72" stroke="#aaa"/>
<path d="M741.4 533.8 L740.4 536" stroke-width="0.72" stroke="#aaa"/>
<path d="M744.2 535.2 L743.2 537.4" stroke-width="0.72" stroke="#aaa"/>
<path d="M747 536.7 L746 538.9" stroke-width="0.72" stroke="#aaa"/>
<path d="M749.8 538.1 L748.8 540.3" stroke-width="0.72" stroke="#aaa"/>
<ellipse cx="754.3" cy="542" rx="3.2" ry="3.6" transform="rotate(0 754.3 542)" fill="#777" stroke-width="2.46"/>
<path d="M758.9 542 L780.5 542" stroke-width="2.03" />
<path d="M1034.1 15.5 L1056.4 5.9 L1056.8 1.6 L1072.3 8.2 L1066.4 22.7 L1063.2 19.5 L1039.1 29.1Z" fill="#000" stroke="#000" stroke-width="0.8"/>
</g>
<g stroke="#1c1c1c" stroke-width="0.45">
<text transform="translate(1005 42.5) rotate(-21.5)" font-size="18" font-weight="bold" letter-spacing="2.2" stroke="#000" stroke-width="0.8" text-anchor="start">FR.</text>
<text transform="translate(364.3 92.8) scale(0.95 1)" font-size="17.3" text-anchor="middle" >12</text>
<text transform="translate(364.3 110) scale(0.95 1)" font-size="17.3" text-anchor="middle" >13</text>
<text transform="translate(399.8 291.3) scale(0.95 1)" font-size="17.3" text-anchor="middle" >5</text>
<text transform="translate(399.8 308.8) scale(0.95 1)" font-size="17.3" text-anchor="middle" >8</text>
<text transform="translate(72.5 236.2) scale(0.95 1)" font-size="17.3" text-anchor="middle" >17</text>
<text transform="translate(243.2 157.5) scale(0.95 1)" font-size="17.3" text-anchor="middle" >1</text>
<text transform="translate(346 409.6) scale(0.95 1)" font-size="17.3" text-anchor="middle" >19</text>
<text transform="translate(592.5 137.8) scale(0.95 1)" font-size="17.3" text-anchor="middle" >10</text>
<text transform="translate(734.6 91.6) scale(0.95 1)" font-size="17.3" text-anchor="middle" >9</text>
<text transform="translate(735 109.4) scale(0.95 1)" font-size="17.3" text-anchor="middle" >11</text>
<text transform="translate(875 134.3) scale(0.95 1)" font-size="17.3" text-anchor="middle" >3</text>
<text transform="translate(875 152.7) scale(0.95 1)" font-size="17.3" text-anchor="middle" >6</text>
<text transform="translate(810.7 159.5) scale(0.95 1)" font-size="17.3" text-anchor="middle" >2</text>
<text transform="translate(618.3 232.8) scale(0.95 1)" font-size="17.3" text-anchor="middle" >15</text>
<text transform="translate(529 318.3) scale(0.95 1)" font-size="17.3" text-anchor="middle" >16</text>
<text transform="translate(558 478) scale(0.95 1)" font-size="17.3" text-anchor="middle" >18</text>
<text transform="translate(796 485.3) scale(0.95 1)" font-size="17.3" text-anchor="middle" >4</text>
<text transform="translate(796 503.6) scale(0.95 1)" font-size="17.3" text-anchor="middle" >7</text>
<text transform="translate(950.2 430.3) scale(0.95 1)" font-size="17.3" text-anchor="middle" >20</text>
<text transform="translate(925.8 493.6) scale(0.95 1)" font-size="17.3" text-anchor="middle" >14</text>
<text transform="translate(789.5 547.8) scale(0.95 1)" font-size="17.3" text-anchor="middle" >21</text>
</g>
</g>
</svg>
</body>
</html>
